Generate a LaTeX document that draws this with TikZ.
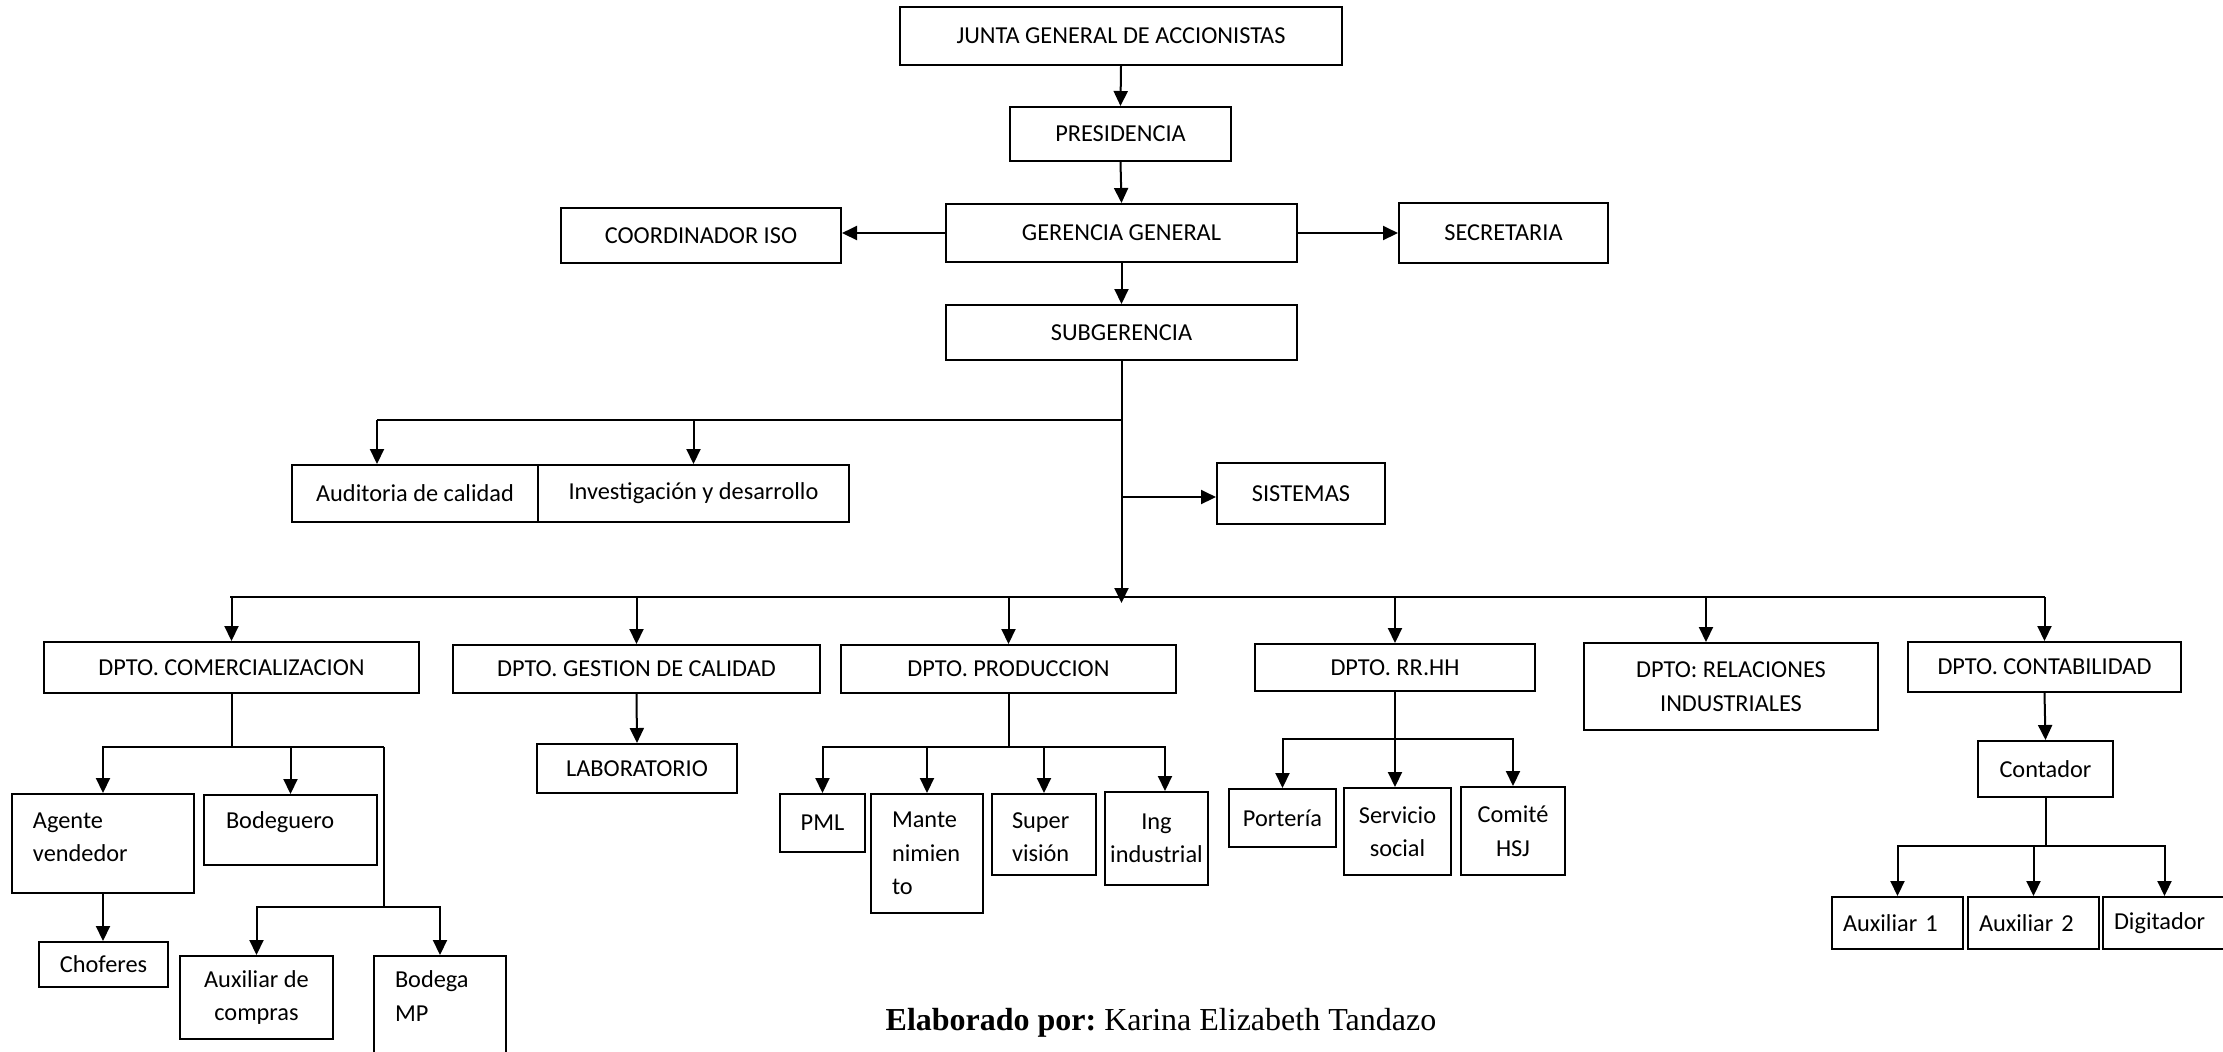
\documentclass[tikz,border=0pt]{standalone}
\usepackage{fontspec}
\setmainfont{Carlito}
\newfontfamily\authorfont{Liberation Serif}
\usetikzlibrary{arrows.meta}

% one drawing unit = one pixel of the layout grid
\newcommand\pxu{0.3pt}
% \orgbox[options]{name}{left}{top}{right}{bottom}{text}
\newcommand\orgbox[7][]{%
  \node[box,minimum width={(#5-#3)*\pxu},minimum height={(#6-#4)*\pxu},#1]
    (#2) at ({(#3+#5)/2},{(#4+#6)/2}) {#7};}

\begin{document}
\begin{tikzpicture}[x=0.3pt,y=-0.3pt,
  box/.style={draw,line width=0.6pt,inner sep=0pt,align=center,
    font=\fontsize{7.3}{10.05}\selectfont},
  link/.style={line width=0.6pt},
  arr/.style={link,-{Triangle[length=4.5pt,width=4.2pt]}}]
\clip (0,0) rectangle (2223,1051);

% ---- top management
\orgbox{jga}{900}{7}{1342}{65}{JUNTA GENERAL DE ACCIONISTAS}
\orgbox{pres}{1010}{107}{1231}{161}{PRESIDENCIA}
\orgbox{ger}{946}{204}{1297}{262}{GERENCIA GENERAL}
\orgbox{coord}{561}{208}{841}{263}{COORDINADOR ISO}
\orgbox{sec}{1399}{203}{1608}{263}{SECRETARIA}
\orgbox{sub}{946}{305}{1297}{360}{SUBGERENCIA}

% ---- staff units
\orgbox{aud}{292}{465}{538}{522}{Auditoria de calidad}
\orgbox{inv}{538}{465}{849}{522}{Investigación y desarrollo}
\orgbox{sist}{1217}{463}{1385}{524}{SISTEMAS}

% ---- departments
\orgbox{com}{44}{642}{419}{693}{DPTO. COMERCIALIZACION}
\orgbox{ges}{453}{645}{820}{693}{DPTO. GESTION DE CALIDAD}
\orgbox{prod}{841}{645}{1176}{693}{DPTO. PRODUCCION}
\orgbox{rrhh}{1255}{644}{1535}{691}{DPTO. RR.HH}
\orgbox{ri}{1584}{643}{1878}{730}{DPTO: RELACIONES\\INDUSTRIALES}
\orgbox{cont}{1908}{642}{2181}{692}{DPTO. CONTABILIDAD}

% ---- commercial area
\orgbox[align=left,text width=42pt,text depth=13.8pt]{agente}{12}{794}{194}{893}{Agente\\vendedor}
\orgbox[align=left,text width=38.7pt,text depth=5.7pt]{bodeg}{204}{795}{377}{865}{Bodeguero}
\orgbox[text depth=0pt]{chof}{39}{942}{168}{987}{Choferes}
\orgbox{auxc}{180}{956}{333}{1039}{Auxiliar de\\compras}
\orgbox[align=left,text width=27pt,text depth=21.6pt]{bmp}{374}{956}{506}{1075}{Bodega\\MP}

% ---- quality
\orgbox{lab}{537}{744}{737}{793}{LABORATORIO}

% ---- production
\orgbox{pml}{780}{794}{865}{852}{PML}
\orgbox[align=left,text width=21pt]{mant}{871}{794}{983}{913}{Mante\\nimien\\to}
\orgbox[align=left,text width=19.2pt,text depth=8.4pt]{super}{992}{794}{1096}{875}{Super\\visión}
\orgbox{ing}{1105}{792}{1208}{885}{Ing\\industrial}

% ---- human resources
\orgbox{port}{1229}{789}{1336}{847}{Portería}
\orgbox{serv}{1344}{788}{1451}{875}{Servicio\\social}
\orgbox{comite}{1461}{787}{1565}{875}{Comité\\HSJ}

% ---- accounting
\orgbox{contador}{1978}{741}{2113}{797}{Contador}
\orgbox[align=left,text width=32.7pt]{aux1}{1832}{897}{1963}{949}{Auxiliar 1}
\orgbox[align=left,text width=32.7pt]{aux2}{1968}{897}{2099}{949}{Auxiliar 2}
\orgbox[align=left,text width=30.3pt]{dig}{2103}{897}{2226}{949}{Digitador}

% ---- junction points
\coordinate (rd-j) at (1121.5,420);
\coordinate (aud-tap) at (377,420);
\coordinate (sys-j) at (1121.5,497);
\coordinate (bus) at (1121.5,597);
\coordinate (bus-l) at (230,597);
\coordinate (bus-r) at (2044.5,597);
\coordinate (trunk-tip) at (1121.5,603);
\coordinate (ri-tap) at (1706,597);
\coordinate (com-j) at (231.5,747);
\coordinate (com-r) at (384,747);
\coordinate (com-k) at (384,907);
\coordinate (prod-j) at (1008.5,747);
\coordinate (ing-tap) at (1165,747);
\coordinate (rh-j) at (1395,739);
\coordinate (ct-j) at (2045.5,846);

% ---- top chain
\draw[arr] (jga.south) -- (pres.north);
\draw[arr] (pres.south) -- (ger.north);
\draw[arr] (ger.south) -- (sub.north);
\draw[arr] (ger.west) -- (ger.west -| coord.east);
\draw[arr] (ger.east) -- (ger.east -| sec.west);

% ---- trunk below the sub-management
\draw[arr] (sub.south) -- (trunk-tip);
\draw[link] (rd-j) -- (aud-tap);
\draw[arr] (aud-tap) -- (aud-tap |- aud.north);
\draw[arr] (inv.north |- rd-j) -- (inv.north);
\draw[arr] (sys-j) -- (sys-j -| sist.west);

% ---- department bus
\draw[link] (bus-l) -- (bus-r);
\foreach \d in {com,ges,prod,rrhh,cont}
  \draw[arr] (\d.north |- bus) -- (\d.north);
\draw[arr] (ri-tap) -- (ri-tap |- ri.north);

% ---- commercial branch
\draw[link] (com.south) -- (com-j);
\draw[arr] (com-r) -| (agente.north);
\draw[arr] (bodeg.north |- com-j) -- (bodeg.north);
\draw[link] (com-r) -- (com-k);
\draw[arr] (com-k) -| (auxc.north);
\draw[arr] (com-k) -| (bmp.north);
\draw[arr] (agente.south) -- (chof.north -| agente.south);

% ---- quality branch
\draw[arr] (ges.south) -- (lab.north);

% ---- production branch
\draw[link] (prod.south) -- (prod-j);
\draw[arr] (prod-j) -| (pml.north);
\draw[arr] (mant.north |- prod-j) -- (mant.north);
\draw[arr] (super.north |- prod-j) -- (super.north);
\draw[arr] (prod-j) -- (ing-tap) -- (ing-tap |- ing.north);

% ---- human resources branch
\draw[arr] (rrhh.south) -- (rrhh.south |- serv.north);
\draw[arr] (rh-j) -| (port.north);
\draw[arr] (rh-j) -| (comite.north);

% ---- accounting branch
\draw[arr] (cont.south) -- (contador.north);
\draw[link] (contador.south) -- (ct-j);
\draw[arr] (ct-j) -| (aux1.north);
\draw[arr] (aux2.north |- ct-j) -- (aux2.north);
\draw[arr] (ct-j) -| (dig.north);

% ---- author line
\node[anchor=base west,inner sep=0pt,font=\authorfont\fontsize{9.6}{11}\selectfont]
  (autor) at (885,1030) {\frenchspacing\textbf{Elaborado por:} Karina Elizabeth Tandazo};
\end{tikzpicture}
\end{document}
